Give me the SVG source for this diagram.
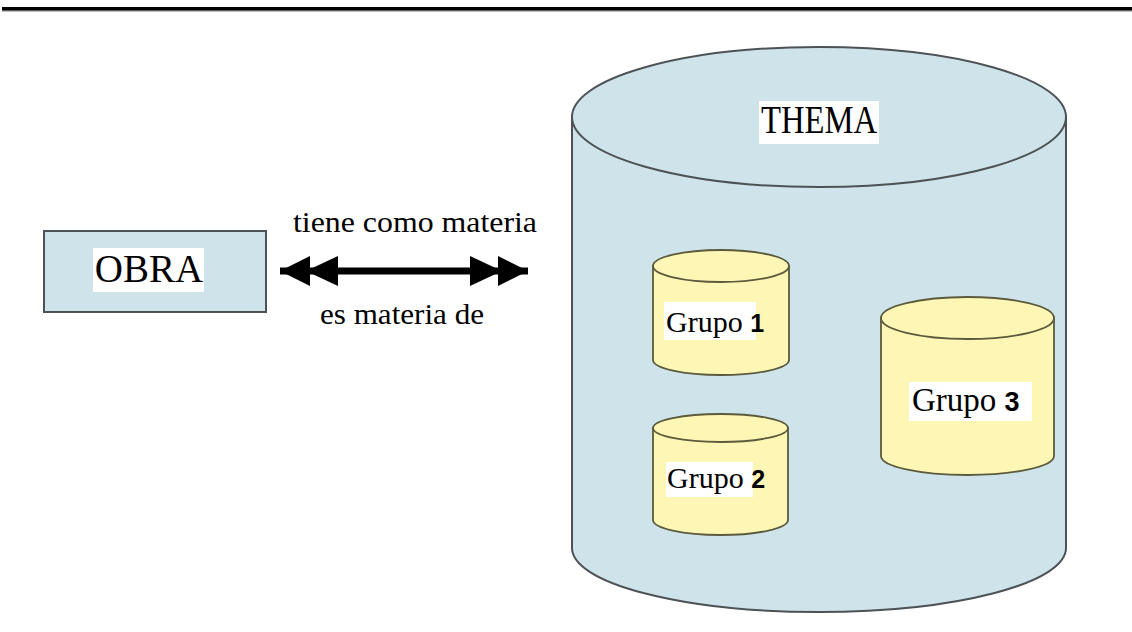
<svg xmlns="http://www.w3.org/2000/svg" width="1132" height="632" viewBox="0 0 1132 632">
  <style>
    .blue { fill: #cfe4ea; stroke: #4d5256; stroke-width: 2; }
    .yellow { fill: #fdf6b4; stroke: #5c5a3c; stroke-width: 1.8; }
    .lbl { font-family: "Liberation Serif", "Times New Roman", serif; fill: #000; }
    .num { font-family: "Liberation Sans", Arial, sans-serif; font-weight: bold; fill: #000; }
    .bg { fill: #ffffff; }
  </style>
  <defs>
    <marker id="dbl" viewBox="0 0 58 30" refX="58" refY="15" markerWidth="58" markerHeight="30" markerUnits="userSpaceOnUse" orient="auto-start-reverse">
      <path d="M0,0 L32,15 L0,30 Z M28,0 L58,15 L28,30 Z" fill="#000"/>
    </marker>
  </defs>
  <rect width="1132" height="632" fill="#ffffff"/>
  <!-- top rule -->
  <rect x="2" y="10" width="1130" height="2" fill="#bdbdbd"/>
  <rect x="2" y="7" width="1130" height="3.5" fill="#000"/>

  <g id="obra">
    <rect x="44" y="231" width="222" height="81" class="blue"/>
    <rect x="93" y="248" width="111" height="44" class="bg"/>
    <text x="149" y="282" class="lbl" font-size="39" text-anchor="middle">OBRA</text>
  </g>

  <g id="thema">
    <path d="M572,117 L572,548 A247,64 0 0 0 1066,548 L1066,117 Z" class="blue"/>
    <ellipse cx="819" cy="117" rx="247" ry="70" class="blue"/>
    <rect x="759" y="101" width="120" height="43" class="bg"/>
    <text x="819" y="133" class="lbl" font-size="39" text-anchor="middle" textLength="116" lengthAdjust="spacingAndGlyphs">THEMA</text>
  </g>

  <g id="grupo1">
    <path d="M653,266 L653,360 A68,15 0 0 0 789,360 L789,266 Z" class="yellow"/>
    <ellipse cx="721" cy="266" rx="68" ry="16" class="yellow"/>
    <rect x="664" y="302" width="92" height="38" class="bg"/>
    <text x="666" y="332" class="lbl" font-size="30">Grupo <tspan class="num" font-size="25">1</tspan></text>
  </g>

  <g id="grupo2">
    <path d="M653,428 L653,520 A67.5,15 0 0 0 788,520 L788,428 Z" class="yellow"/>
    <ellipse cx="720.5" cy="428" rx="67.5" ry="14" class="yellow"/>
    <rect x="666" y="462" width="87" height="35" class="bg"/>
    <text x="667" y="488" class="lbl" font-size="30">Grupo <tspan class="num" font-size="25">2</tspan></text>
  </g>

  <g id="grupo3">
    <path d="M881,318 L881,456 A86.5,19 0 0 0 1054,456 L1054,318 Z" class="yellow"/>
    <ellipse cx="967.5" cy="318" rx="86.5" ry="21" class="yellow"/>
    <rect x="909" y="382" width="123" height="39" class="bg"/>
    <text x="912" y="411" class="lbl" font-size="33">Grupo <tspan class="num" font-size="27">3</tspan></text>
  </g>

  <g id="connectors">
    <line x1="280" y1="271" x2="528" y2="271" stroke="#000" stroke-width="7" marker-start="url(#dbl)" marker-end="url(#dbl)"/>
    <text x="293" y="232" class="lbl" font-size="30" textLength="244" lengthAdjust="spacingAndGlyphs">tiene como materia</text>
    <text x="320" y="324" class="lbl" font-size="30" textLength="164" lengthAdjust="spacingAndGlyphs">es materia de</text>
  </g>
</svg>
